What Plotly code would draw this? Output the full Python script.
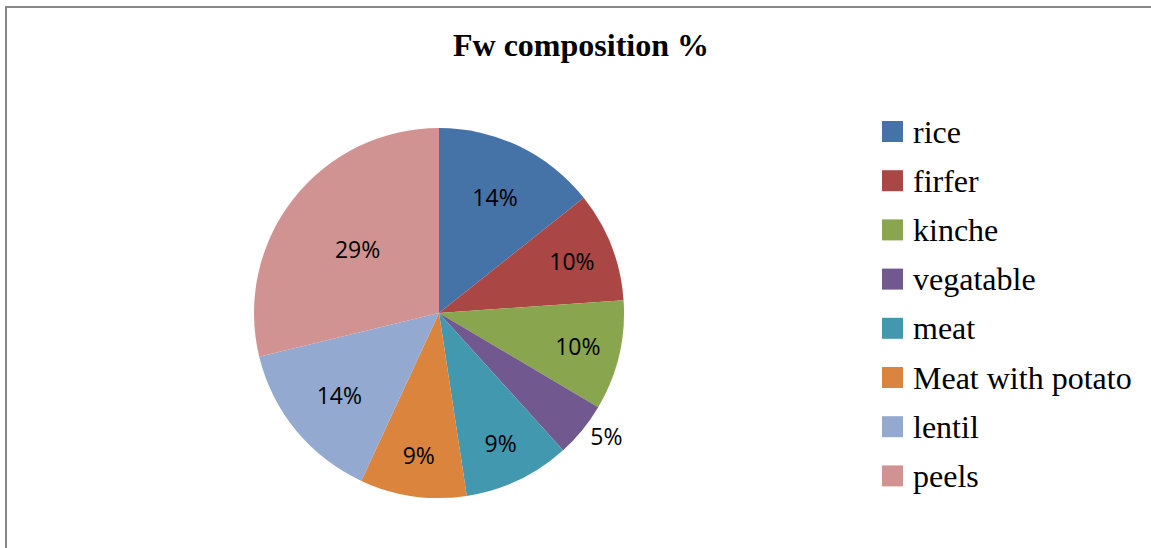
import plotly.graph_objects as go

W, H = 1151, 548

labels = ["rice", "firfer", "kinche", "vegatable", "meat", "Meat with potato", "lentil", "peels"]
values = [14.3, 9.6, 9.6, 4.8, 9.3, 9.3, 14.3, 28.8]
colors = ["#4572A7", "#AA4643", "#89A54E", "#71588F", "#4198AF", "#DB843D", "#93A9CF", "#D19392"]
text_pos = ["inside", "inside", "inside", "outside", "inside", "inside", "inside", "inside"]
title_text = "Fw composition %"

def px(x):
    return x / W

def py(y):
    return 1 - y / H

fig = go.Figure()
fig.add_trace(go.Pie(
    labels=labels,
    values=values,
    sort=False,
    direction="clockwise",
    rotation=0,
    marker=dict(colors=colors, line=dict(width=0)),
    texttemplate="%{percent:.0%}",
    textposition=text_pos,
    insidetextorientation="horizontal",
    textfont=dict(family="Open Sans", size=23, color="#000000"),
    domain=dict(x=[px(254), px(624)], y=[py(498), py(128)]),
    showlegend=False,
    hoverinfo="label+percent",
))

shapes = [dict(type="rect", xref="paper", yref="paper",
               x0=px(6), x1=px(1170), y0=py(570), y1=py(7),
               line=dict(color="#878787", width=2), fillcolor="rgba(0,0,0,0)")]
annotations = [dict(text="<b>" + title_text + "</b>", xref="paper", yref="paper",
                    x=px(581), y=py(45), xanchor="center", yanchor="middle", showarrow=False,
                    font=dict(family="Liberation Serif", size=32, color="#000000"))]

row0, gap = 131.5, 49.2
for i, (lab, col) in enumerate(zip(labels, colors)):
    cy = row0 + i * gap
    shapes.append(dict(type="rect", xref="paper", yref="paper",
                       x0=px(882), x1=px(903), y0=py(cy + 10.5), y1=py(cy - 10.5),
                       line=dict(width=0), fillcolor=col))
    annotations.append(dict(text=lab, xref="paper", yref="paper",
                            x=px(911), y=py(cy), xanchor="left", yanchor="middle",
                            showarrow=False,
                            font=dict(family="Liberation Serif", size=32, color="#000000")))

fig.update_layout(
    width=W, height=H,
    margin=dict(l=0, r=0, t=0, b=0),
    paper_bgcolor="#ffffff",
    plot_bgcolor="#ffffff",
    shapes=shapes,
    annotations=annotations,
    showlegend=False,
)

fig.write_html("out.html")
